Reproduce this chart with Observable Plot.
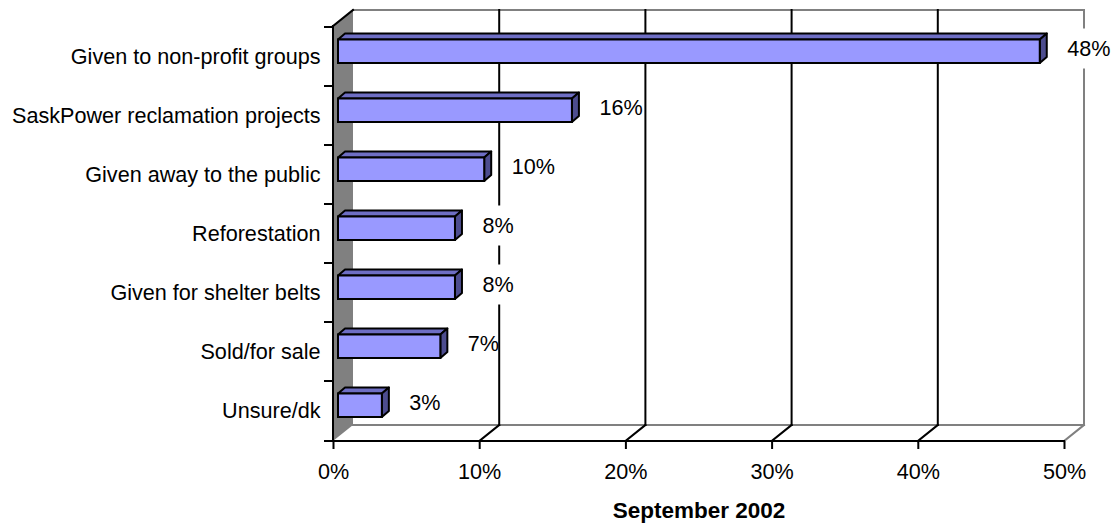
<!DOCTYPE html>
<html><head><meta charset="utf-8">
<script src="https://cdn.jsdelivr.net/npm/d3@7"></script>
<script src="https://cdn.jsdelivr.net/npm/@observablehq/plot@0.6"></script>
<style>body{margin:0;background:#fff;}</style>
</head><body><div id="chart"></div>
<script>
const categories = ["Given to non-profit groups","SaskPower reclamation projects","Given away to the public","Reforestation","Given for shelter belts","Sold/for sale","Unsure/dk"];
const values = [48,16,10,8,8,7,3];
const xTicks = [0,10,20,30,40,50];
const title = "September 2002";

const data = categories.map((c,i)=>({category:c, value:values[i], label: values[i]+"%"}));

const FONT = '"Liberation Sans", Arial, sans-serif';
const DX = 20, DY = -16;          // wall depth
const BAR_DX = 5;                 // bar front face offset
const BDX = 7, BDY = -6;          // bar depth
const INSET_TOP = 12.5, INSET_BOTTOM = 23;
const LABEL_DX = 32, LABEL_DY = -8, FS = 21.6;

function line(g, x1, y1, x2, y2, stroke) {
  g.append("line").attr("x1",x1).attr("y1",y1).attr("x2",x2).attr("y2",y2)
   .attr("stroke",stroke).attr("stroke-width",2).attr("stroke-linecap","square");
}

function frame3d(index, scales, vals, dim) {
  const x = scales.x, y = scales.y;
  const g = d3.create("svg:g");
  const x0 = x(0), xe = x(xTicks[xTicks.length-1]);
  const yT = dim.marginTop, yB = dim.height - dim.marginBottom;
  g.append("path").attr("d", `M${x0},${yT}L${x0+DX},${yT+DY}L${x0+DX},${yB+DY}L${x0},${yB}Z`).attr("fill","#808080");
  line(g, x0+DX, yT+DY, xe+DX, yT+DY, "#808080");
  line(g, xe+DX, yT+DY, xe+DX, yB+DY, "#808080");
  line(g, x0+DX, yB+DY, xe+DX, yB+DY, "#808080");
  for (const t of xTicks.slice(1)) {
    const last = t === xTicks[xTicks.length-1];
    if (!last) line(g, x(t)+DX, yT+DY, x(t)+DX, yB+DY, "black");
    line(g, x(t), yB, x(t)+DX, yB+DY, last ? "#808080" : "black");
  }
  line(g, x0, yT, x0+DX, yT+DY, "black");
  line(g, x0, yT, x0, yB, "black");
  line(g, x0, yB, xe, yB, "black");
  for (const c of categories) line(g, x0-8, y(c), x0, y(c), "black");
  line(g, x0-8, yB, x0, yB, "black");
  return g.node();
}

function bars3d(index, scales, vals, dim) {
  const x = scales.x, y = scales.y, bw = y.bandwidth();
  const g = d3.create("svg:g").attr("stroke","black").attr("stroke-width",2).attr("stroke-linejoin","round");
  for (const d of data) {
    const xl = x(0)+BAR_DX, xr = x(d.value)+BAR_DX;
    const t = y(d.category)+INSET_TOP, b = y(d.category)+bw-INSET_BOTTOM;
    g.append("path").attr("fill","#6e6ec4").attr("d",`M${xl},${t}L${xl+BDX},${t+BDY}L${xr+BDX},${t+BDY}L${xr},${t}Z`);
    g.append("path").attr("fill","#4d4d8f").attr("d",`M${xr},${t}L${xr+BDX},${t+BDY}L${xr+BDX},${b+BDY}L${xr},${b}Z`);
  }
  return g.node();
}

function labelBg(index, scales, vals, dim) {
  const x = scales.x, y = scales.y, bw = y.bandwidth();
  const g = d3.create("svg:g").attr("fill","white");
  for (const d of data) {
    const w = FS*(0.556*String(d.value).length + 0.889);
    const cx = x(d.value)+LABEL_DX, cy = y(d.category)+bw/2+LABEL_DY;
    g.append("rect").attr("x",cx-1).attr("y",cy-20).attr("width",w-1).attr("height",40);
  }
  return g.node();
}

const chart = Plot.plot({
  width: 1115, height: 531,
  marginLeft: 333, marginRight: 51, marginTop: 26, marginBottom: 90,
  style: {fontFamily: FONT, fontSize: FS+"px", color: "black", background: "white"},
  x: {domain: [0, 50]},
  y: {domain: categories, padding: 0},
  marks: [
    frame3d,
    labelBg,
    Plot.text(data, {x: "value", y: "category", text: "label", textAnchor: "start", dx: LABEL_DX, dy: LABEL_DY, fontSize: FS, fill: "black"}),
    bars3d,
    Plot.barX(data, {x: "value", y: "category", fill: "#9999ff", stroke: "black", strokeWidth: 2, dx: BAR_DX, insetTop: INSET_TOP, insetBottom: INSET_BOTTOM}),
    Plot.axisX({ticks: xTicks, tickFormat: d => d + "%", tickSize: 8, tickPadding: 14, strokeWidth: 2, fontSize: FS, label: null}),
    Plot.axisY({tickSize: 0, tickPadding: 13, fontSize: FS, label: null}),
    Plot.text([title], {frameAnchor: "bottom", dy: 76, fontWeight: "bold", fontSize: 22.5, fill: "black"})
  ]
});
document.getElementById("chart").appendChild(chart);
</script>
</body></html>
